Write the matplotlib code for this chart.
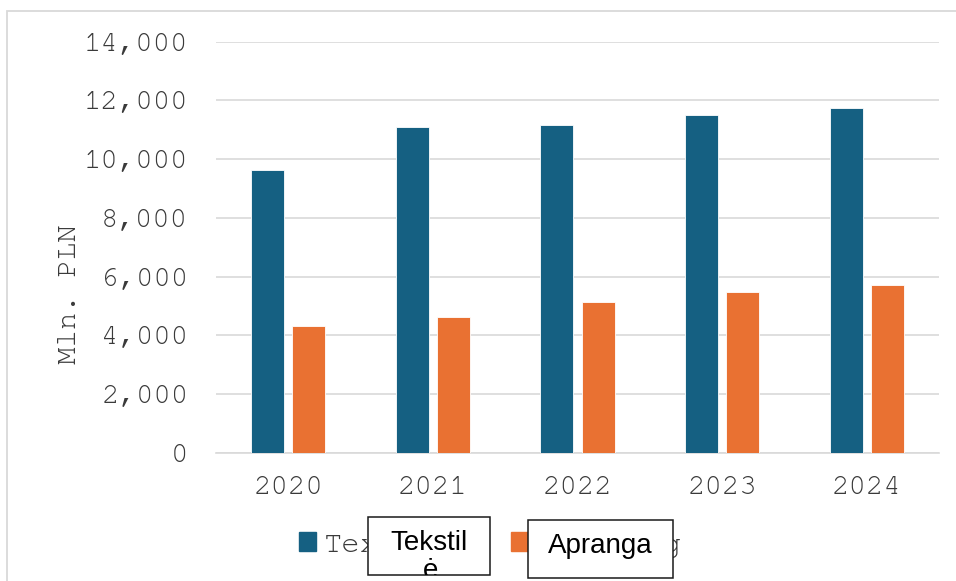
import numpy as np
import matplotlib.pyplot as plt
from matplotlib.patches import Rectangle, Patch
from matplotlib.ticker import FuncFormatter
from matplotlib import font_manager

years = ['2020', '2021', '2022', '2023', '2024']
textiles = [9640, 11080, 11160, 11490, 11730]
clothing = [4320, 4620, 5140, 5470, 5710]
series_names = ['Textiles', 'Clothing']
overlay_names = ['Tekstil', 'Apranga']

blue = '#156082'
orange = '#E97132'
grid_col = '#D9D9D9'
txt_col = '#3a3a3a'

W, H = 956, 581


def px(x, y):
    # pixel coords (top-left origin) -> figure fraction
    return x / W, 1 - y / H


# prefer a Courier-like face if one happens to exist
installed = {f.name for f in font_manager.fontManager.ttflist}
mono = 'Liberation Mono'
for cand in ['Courier New', 'Nimbus Mono PS', 'FreeMono', 'Courier']:
    if cand in installed:
        mono = cand
        break
sans = 'Liberation Sans'

fig = plt.figure(figsize=(W / 100, H / 100), dpi=100)

# outer chart frame (cropped on right/bottom)
frame = Rectangle(px(7, 600), (980 - 7) / W, (600 - 11) / H, transform=fig.transFigure,
                  fill=False, edgecolor=grid_col, linewidth=1.3)
fig.add_artist(frame)

ax = fig.add_axes([216 / W, 1 - 452.7 / H, 723 / W, 411 / H])
x = np.arange(len(years))
w = 0.228
off = 0.143
ax.bar(x - off, textiles, w, color=blue, edgecolor='white', linewidth=0.6, zorder=3)
ax.bar(x + off, clothing, w, color=orange, edgecolor='white', linewidth=0.6, zorder=3)

ax.set_xlim(-0.5, len(years) - 0.5)
ax.set_ylim(0, 14000)
ax.set_yticks(np.arange(0, 14001, 2000))
ax.yaxis.set_major_formatter(FuncFormatter(lambda v, _: f'{v:,.0f}'))
ax.set_xticks(x)
ax.set_xticklabels(years)
ax.grid(axis='y', color=grid_col, linewidth=1.2, zorder=0)
ax.set_axisbelow(True)
for s in ['top', 'right', 'left']:
    ax.spines[s].set_visible(False)
ax.spines['bottom'].set_color(grid_col)
ax.spines['bottom'].set_linewidth(1.2)
ax.tick_params(axis='y', length=0, pad=20, labelsize=21, labelcolor=txt_col)
ax.tick_params(axis='x', length=0, pad=17, labelsize=21, labelcolor=txt_col)
for lab in ax.get_xticklabels() + ax.get_yticklabels():
    lab.set_family(mono)

fig.text(*px(70, 294), 'Mln. PLN', rotation=90, ha='center', va='center',
         family=mono, fontsize=21, color=txt_col)

handles = [Patch(color=blue), Patch(color=orange)]
leg = fig.legend(handles, series_names, loc='center left', bbox_to_anchor=px(271, 545),
                 ncol=2, frameon=False, prop={'family': mono, 'size': 22},
                 handlelength=0.56, handleheight=0.56, handletextpad=0.25,
                 columnspacing=1.35, labelcolor=txt_col)
leg.set_zorder(4)

# overlaid label boxes
box1 = Rectangle(px(367.7, 575), (490 - 367.7) / W, (575 - 516.7) / H,
                 transform=fig.transFigure, facecolor='white', edgecolor='#1a1a1a',
                 linewidth=1.1, zorder=10)
box2 = Rectangle(px(527.7, 578.3), (672.7 - 527.7) / W, (578.3 - 520) / H,
                 transform=fig.transFigure, facecolor='white', edgecolor='#1a1a1a',
                 linewidth=1.1, zorder=10)
fig.add_artist(box1)
fig.add_artist(box2)

fig.text(*px(429, 550), overlay_names[0], ha='center', va='baseline',
         family=sans, fontsize=20, color='black', zorder=11)
t2 = fig.text(*px(431, 578.5), 'ė', ha='center', va='baseline',
              family=sans, fontsize=20, color='black', zorder=11)
t2.set_clip_path(box1)
fig.text(*px(600, 553), overlay_names[1], ha='center', va='baseline',
         family=sans, fontsize=20, color='black', zorder=11)

fig.savefig('out.png', dpi=100)
